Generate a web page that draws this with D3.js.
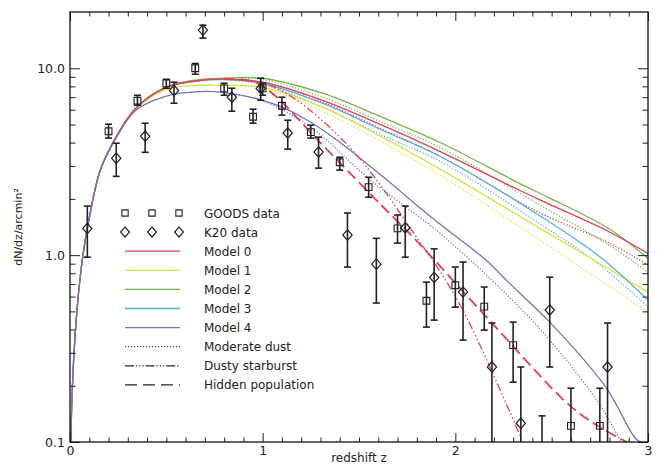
<!DOCTYPE html>
<html>
<head>
<meta charset="utf-8">
<script src="https://cdn.jsdelivr.net/npm/d3@7"></script>
<style>
  body { margin: 0; background: #fff; }
  text { font-family: "DejaVu Sans", sans-serif; fill: #222; }
</style>
</head>
<body>
<svg id="chart" width="657" height="466"></svg>
<script>
// ---- data: [redshift z, dN/dz per arcmin^2] ----
const model0 = [[0.005,0.1],[0.01,0.17],[0.03,0.42],[0.06,0.88],[0.093,1.45],[0.155,2.8],[0.22,3.95],[0.34,6.1],[0.5,7.91],[0.67,8.6],[0.8,8.75],[1.0,8.42],[1.31,6.74],[1.62,4.96],[1.93,3.55],[2.33,2.23],[2.49,1.87],[2.8,1.33],[3.0,1.02]];
const model1 = [[0.005,0.1],[0.01,0.17],[0.03,0.42],[0.06,0.88],[0.093,1.45],[0.155,2.8],[0.22,3.95],[0.34,6.0],[0.5,7.7],[0.67,8.11],[0.8,8.1],[1.0,7.93],[1.31,6.19],[1.62,4.28],[1.93,2.85],[2.44,1.39],[3.0,0.634]];
const model2 = [[0.005,0.1],[0.01,0.17],[0.03,0.42],[0.06,0.88],[0.093,1.45],[0.155,2.8],[0.22,3.95],[0.34,6.1],[0.5,7.95],[0.67,8.7],[0.8,8.85],[1.0,8.84],[1.31,7.35],[1.62,5.47],[1.93,3.97],[2.33,2.43],[2.49,2.02],[2.8,1.38],[3.0,0.96]];
const model3 = [[0.005,0.1],[0.01,0.17],[0.03,0.42],[0.06,0.88],[0.093,1.45],[0.155,2.8],[0.22,3.95],[0.34,6.1],[0.5,7.9],[0.67,8.55],[0.8,8.7],[1.0,8.31],[1.31,6.5],[1.62,4.66],[1.93,3.34],[2.44,1.62],[2.75,0.98],[3.0,0.574]];
const model4 = [[0.005,0.1],[0.01,0.17],[0.03,0.42],[0.06,0.88],[0.093,1.45],[0.155,2.8],[0.22,3.9],[0.34,5.95],[0.5,7.1],[0.67,7.5],[0.8,7.4],[1.0,6.74],[1.1,6.19],[1.25,5.14],[1.4,4.02],[1.62,2.65],[1.88,1.58],[2.16,0.94],[2.28,0.708],[2.49,0.438],[2.78,0.197],[2.93,0.106],[2.96,0.1]];

const dust0 = [[0.8,8.75],[1.0,8.4],[1.31,6.6],[1.62,4.72],[1.93,3.34],[2.44,1.68],[2.8,1.16],[3.0,0.885]];
const dust1 = [[0.8,8.1],[1.0,7.85],[1.31,5.89],[1.62,4.02],[1.93,2.64],[2.44,1.2],[3.0,0.495]];
const dust2 = [[0.8,8.85],[1.0,8.7],[1.31,7.0],[1.62,5.14],[1.93,3.73],[2.44,1.85],[2.8,1.13],[3.0,0.81]];
const dust3 = [[0.8,8.7],[1.0,8.2],[1.31,6.19],[1.62,4.38],[1.93,3.14],[2.44,1.47],[2.75,0.885],[3.0,0.527]];
const dust4 = [[0.8,7.4],[1.0,6.7],[1.25,4.83],[1.56,2.52],[1.92,1.31],[2.28,0.596],[2.49,0.351],[2.75,0.158],[2.86,0.1]];

const dustyStarburst = [[0.8,8.75],[1.0,8.3],[1.155,7.0],[1.466,3.64],[1.81,1.2],[2.02,0.553],[2.33,0.112],[2.35,0.1]];
const hiddenPopulation = [[0.8,8.75],[0.95,8.5],[1.05,7.35],[1.3,3.99],[1.59,1.97],[1.81,1.16],[2.19,0.433],[2.59,0.158],[2.75,0.12],[2.89,0.1]];

// observations: z, value, lower, upper
const goodsZ  = [0.20,0.35,0.50,0.65,0.80,0.95,1.00,1.10,1.25,1.40,1.55,1.70,1.85,2.00,2.15,2.30,2.60,2.75];
const goodsV  = [4.6,6.7,8.3,10.0,7.8,5.5,7.8,6.3,4.55,3.14,2.31,1.39,0.57,0.69,0.53,0.33,0.122,0.122];
const goodsLo = [4.23,6.34,7.82,9.29,7.17,5.08,7.17,5.61,4.23,2.85,2.04,1.16,0.412,0.527,0.397,0.209,0.05,0.05];
const goodsHi = [5.02,7.17,8.73,10.6,8.31,6.04,8.31,7.0,4.96,3.34,2.61,1.64,0.717,0.863,0.675,0.438,0.194,0.194];

const k20Z  = [0.09,0.24,0.39,0.54,0.69,0.84,0.99,1.13,1.29,1.44,1.59,1.74,1.89,2.04,2.19,2.34,2.45,2.49,2.79];
const k20V  = [1.39,3.3,4.33,7.6,16.0,7.0,7.8,4.5,3.56,1.28,0.895,1.4,0.76,0.634,0.252,0.126,0.07,0.508,0.252];
const k20Lo = [0.975,2.64,3.55,6.5,14.5,5.89,6.74,3.69,2.92,0.863,0.554,0.975,0.449,0.351,0.05,0.05,0.03,0.252,0.05];
const k20Hi = [1.83,3.97,5.08,8.42,17.0,7.82,8.84,5.27,4.28,1.68,1.23,1.83,1.08,0.918,0.433,0.252,0.138,0.762,0.433];

const xMajor = [0, 1, 2, 3];
const yMajor = [0.1, 1, 10];

const colors = {red: '#e2405a', yellow: '#e4de45', green: '#74b64c', blue: '#58ade0', purple: '#7a6fbe'};

const legendItems = [
  {label: 'GOODS data', kind: 'square'},
  {label: 'K20 data', kind: 'diamond'},
  {label: 'Model 0', kind: 'line', color: colors.red, dash: null},
  {label: 'Model 1', kind: 'line', color: colors.yellow, dash: null},
  {label: 'Model 2', kind: 'line', color: colors.green, dash: null},
  {label: 'Model 3', kind: 'line', color: colors.blue, dash: null},
  {label: 'Model 4', kind: 'line', color: colors.purple, dash: null},
  {label: 'Moderate dust', kind: 'line', color: '#555', dash: '1.2,1.8'},
  {label: 'Dusty starburst', kind: 'line', color: '#222', dash: '9,2,1.2,2,1.2,2,1.2,2'},
  {label: 'Hidden population', kind: 'line', color: '#222', dash: '12,6'}
];

// ---- layout ----
const margin = {top: 12, right: 9, bottom: 24, left: 70};
const svg = d3.select('#chart');
const width = +svg.attr('width'), height = +svg.attr('height');
const x = d3.scaleLinear().domain([0, 3]).range([margin.left, width - margin.right]);
const y = d3.scaleLog().domain([0.1, 20]).range([height - margin.bottom, margin.top]);

svg.append('rect').attr('width', width).attr('height', height).attr('fill', '#fff');

svg.append('clipPath').attr('id', 'plot-clip')
  .append('rect')
  .attr('x', x(0)).attr('y', y(20))
  .attr('width', x(3) - x(0)).attr('height', y(0.1) - y(20));

const plot = svg.append('g').attr('clip-path', 'url(#plot-clip)');

const line = d3.line()
  .x(d => x(d[0]))
  .y(d => y(d[1]))
  .curve(d3.curveCatmullRom.alpha(0.5));

const curves = [
  {data: dust0, color: colors.red, dash: '1.2,1.8'},
  {data: dust1, color: colors.yellow, dash: '1.2,1.8'},
  {data: dust2, color: colors.green, dash: '1.2,1.8'},
  {data: dust3, color: colors.blue, dash: '1.2,1.8'},
  {data: dust4, color: colors.purple, dash: '1.2,1.8'},
  {data: model1, color: colors.yellow},
  {data: model3, color: colors.blue},
  {data: model2, color: colors.green},
  {data: model0, color: colors.red},
  {data: model4, color: colors.purple},
  {data: dustyStarburst, color: colors.red, dash: '8,2.5,1.5,2.5,1.5,2.5,1.5,2.5', width: 1.3},
  {data: hiddenPopulation, color: colors.red, dash: '11,5', width: 1.8}
];

curves.forEach(c => {
  plot.append('path')
    .datum(c.data)
    .attr('fill', 'none')
    .attr('stroke', c.color)
    .attr('stroke-width', c.width || 1.3)
    .attr('stroke-dasharray', c.dash || null)
    .attr('d', line);
});

// error bars + markers
function drawPoints(zs, vs, los, his, kind) {
  const pts = zs.map((z, i) => ({z: z, v: vs[i], lo: los[i], hi: his[i]}));
  const g = plot.append('g').attr('stroke', '#222').attr('fill', 'none');
  g.selectAll('line.err').data(pts).join('line')
    .attr('x1', d => x(d.z)).attr('x2', d => x(d.z))
    .attr('y1', d => y(Math.max(d.lo, 0.01))).attr('y2', d => y(d.hi))
    .attr('stroke-width', 1.6);
  g.selectAll('line.cap-hi').data(pts).join('line')
    .attr('x1', d => x(d.z) - 3.5).attr('x2', d => x(d.z) + 3.5)
    .attr('y1', d => y(d.hi)).attr('y2', d => y(d.hi))
    .attr('stroke-width', 1.6);
  g.selectAll('line.cap-lo').data(pts.filter(d => d.lo > 0.1)).join('line')
    .attr('x1', d => x(d.z) - 3.5).attr('x2', d => x(d.z) + 3.5)
    .attr('y1', d => y(d.lo)).attr('y2', d => y(d.lo))
    .attr('stroke-width', 1.6);
  const sym = d3.symbol().type(kind === 'square' ? d3.symbolSquare : d3.symbolDiamond)
    .size(kind === 'square' ? 46 : 44);
  g.selectAll('path.mk').data(pts.filter(d => d.v > 0.1)).join('path')
    .attr('transform', d => `translate(${x(d.z)},${y(d.v)})` + (kind === 'square' ? '' : ' scale(1.3,0.85)'))
    .attr('d', sym)
    .attr('stroke-width', 1.1);
}
drawPoints(goodsZ, goodsV, goodsLo, goodsHi, 'square');
drawPoints(k20Z, k20V, k20Lo, k20Hi, 'diamond');

// ---- axes (ticks point inward on all four sides) ----
const xMinor = d3.range(1, 30).filter(i => i % 10 !== 0).map(i => i / 10);
const yMinor = [];
[0.1, 1, 10].forEach(dec => d3.range(2, 10).forEach(k => { if (k * dec < 20) yMinor.push(k * dec); }));

function styleAxis(g) {
  g.select('.domain').remove();
  g.selectAll('line').attr('stroke', '#222');
  g.selectAll('text').attr('font-size', 12.5).attr('fill', '#222').attr('font-family', '"DejaVu Sans", sans-serif');
}

const yBottom = y(0.1), yTop = y(20), xLeft = x(0), xRight = x(3);

svg.append('g').attr('transform', `translate(0,${yBottom})`)
  .call(d3.axisBottom(x).tickValues(xMajor).tickSizeInner(-9).tickSizeOuter(0).tickPadding(4).tickFormat(d3.format('d')))
  .call(styleAxis);
svg.append('g').attr('transform', `translate(0,${yBottom})`)
  .call(d3.axisBottom(x).tickValues(xMinor).tickSizeInner(-4.5).tickSizeOuter(0).tickFormat(''))
  .call(styleAxis);
svg.append('g').attr('transform', `translate(0,${yTop})`)
  .call(d3.axisTop(x).tickValues(xMajor).tickSizeInner(-9).tickSizeOuter(0).tickFormat(''))
  .call(styleAxis);
svg.append('g').attr('transform', `translate(0,${yTop})`)
  .call(d3.axisTop(x).tickValues(xMinor).tickSizeInner(-4.5).tickSizeOuter(0).tickFormat(''))
  .call(styleAxis);

svg.append('g').attr('transform', `translate(${xLeft},0)`)
  .call(d3.axisLeft(y).tickValues(yMajor).tickSizeInner(-10).tickSizeOuter(0).tickPadding(5).tickFormat(d3.format('.1f')))
  .call(styleAxis);
svg.append('g').attr('transform', `translate(${xLeft},0)`)
  .call(d3.axisLeft(y).tickValues(yMinor).tickSizeInner(-5.5).tickSizeOuter(0).tickFormat(''))
  .call(styleAxis);
svg.append('g').attr('transform', `translate(${xRight},0)`)
  .call(d3.axisRight(y).tickValues(yMajor).tickSizeInner(-10).tickSizeOuter(0).tickFormat(''))
  .call(styleAxis);
svg.append('g').attr('transform', `translate(${xRight},0)`)
  .call(d3.axisRight(y).tickValues(yMinor).tickSizeInner(-5.5).tickSizeOuter(0).tickFormat(''))
  .call(styleAxis);

svg.append('rect')
  .attr('x', xLeft).attr('y', yTop)
  .attr('width', xRight - xLeft).attr('height', yBottom - yTop)
  .attr('fill', 'none').attr('stroke', '#111').attr('stroke-width', 1.3);

svg.append('text')
  .attr('x', (xLeft + xRight) / 2).attr('y', 462)
  .attr('text-anchor', 'middle').attr('font-size', 12)
  .text('redshift z');

svg.append('text')
  .attr('transform', `translate(22,${(yTop + yBottom) / 2}) rotate(-90)`)
  .attr('text-anchor', 'middle').attr('font-size', 11)
  .text('dN/dz/arcmin²');

// ---- legend ----
const legend = svg.append('g').attr('transform', 'translate(125,213)');
const rowH = 19.1;
legendItems.forEach((item, i) => {
  const row = legend.append('g').attr('transform', `translate(0,${i * rowH})`);
  if (item.kind === 'line') {
    row.append('line').attr('x1', 0).attr('x2', 55)
      .attr('stroke', item.color).attr('stroke-width', 1.3)
      .attr('stroke-dasharray', item.dash);
  } else {
    const sym = d3.symbol().type(item.kind === 'square' ? d3.symbolSquare : d3.symbolDiamond).size(40);
    [0, 27, 54].forEach(dx => {
      row.append('path')
        .attr('transform', `translate(${dx},0)` + (item.kind === 'square' ? '' : ' scale(1.3,0.85)'))
        .attr('d', sym).attr('fill', 'none').attr('stroke', '#222').attr('stroke-width', 1.1);
    });
  }
  row.append('text').attr('x', 79).attr('y', 4.5).attr('font-size', 12).text(item.label);
});
</script>
</body>
</html>
